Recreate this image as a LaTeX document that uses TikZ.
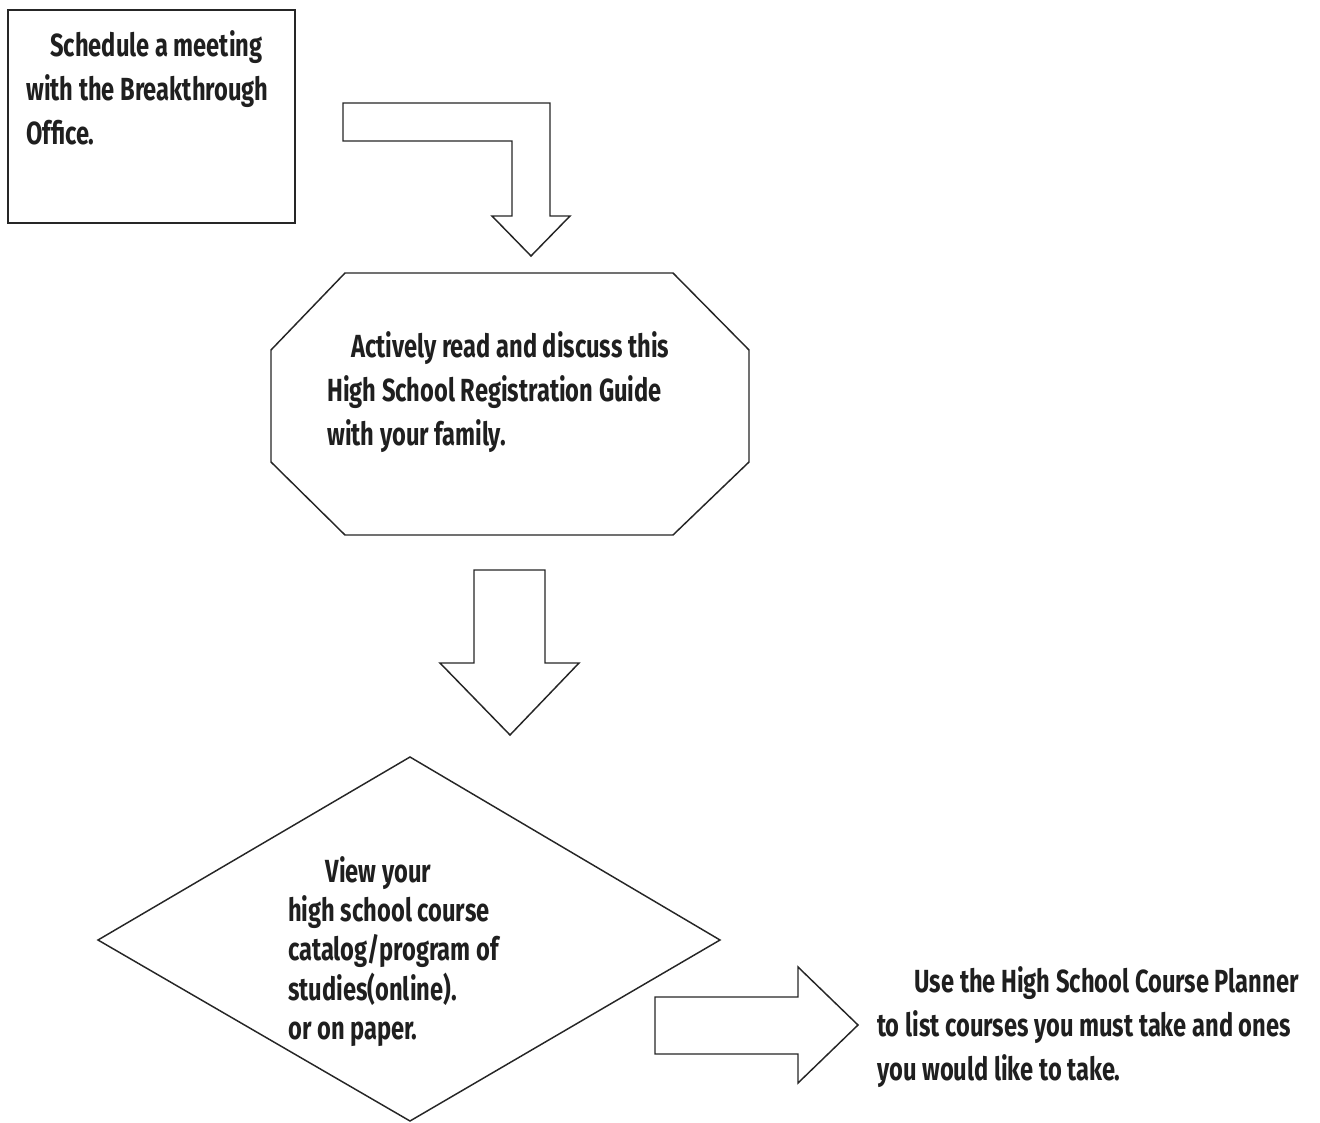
\documentclass[tikz,border=0pt]{standalone}
\usepackage{fontspec}
\setmainfont{Fira Sans}[FakeStretch=0.74]
\begin{document}
\begin{tikzpicture}[x=0.75pt,y=-0.75pt,
  shp/.style={draw=black!85,line width=1.1pt,line join=miter,fill=white},
  txt/.style={anchor=north west,inner sep=0pt,align=left,text=black!88,
    font=\bfseries\fontsize{24}{33}\selectfont},
  txtsm/.style={txt,font=\bfseries\fontsize{24}{29.5}\selectfont}]
\useasboundingbox (0,0) rectangle (1320,1123);
% box 1
\draw[shp] (8,10) rectangle (295,223);
\node[txt] (t1) at (26,30) {\hspace{18pt}Schedule a meeting\\with the Breakthrough\\Office.};
% bent arrow
\draw[shp] (343,103) -- (550,103) -- (550,216) -- (570,216) -- (531,256) -- (492,216) -- (512,216) -- (512,141) -- (343,141) -- cycle;
% octagon
\draw[shp] (345,273) -- (673,273) -- (749,350) -- (749,462) -- (673,535) -- (345,535) -- (271,462) -- (271,350) -- cycle;
\node[txt] (t2) at (327,331) {\hspace{18pt}Actively read and discuss this\\High School Registration Guide\\with your family.};
% down arrow
\draw[shp] (474,570) -- (545,570) -- (545,663) -- (579,663) -- (510,735) -- (440,663) -- (474,663) -- cycle;
% diamond
\draw[shp] (410,757) -- (720,940) -- (410,1121) -- (98,940) -- cycle;
\node[txtsm] (t3) at (288,856) {\hspace{28pt}View your\\high school course\\catalog/program of\\studies(online).\\or on paper.};
% right arrow
\draw[shp] (655,997) -- (798,997) -- (798,967) -- (858,1025) -- (798,1083) -- (798,1054) -- (655,1054) -- cycle;
\node[txt] (t4) at (877,966) {\hspace{28pt}Use the High School Course Planner\\to list courses you must take and ones\\you would like to take.};
\end{tikzpicture}
\end{document}
